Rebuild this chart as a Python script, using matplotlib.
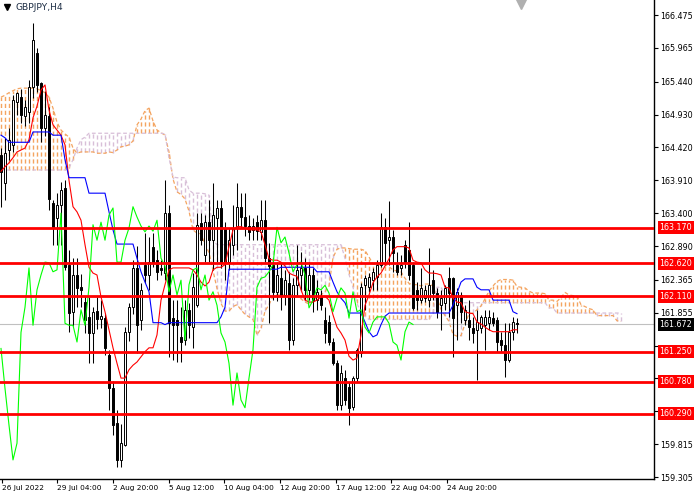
import matplotlib
matplotlib.use("Agg")
import matplotlib.pyplot as plt
from matplotlib.transforms import blended_transform_factory

# GBPJPY H4 candles, bar 0 = 26 Jul 2022 12:00
opens = [164.30, 163.87, 164.38, 164.46, 165.12, 165.20, 164.90, 164.97, 165.36, 165.88,
         165.42, 164.72, 164.90, 163.56, 163.32, 163.53, 163.79, 162.60, 161.87, 162.44,
         162.25, 162.02, 161.79, 161.54, 161.88, 161.76, 161.77, 161.20, 160.68, 160.14,
         159.57, 159.80, 161.55, 161.94, 162.55, 161.74, 162.59, 162.44, 162.87, 162.67,
         162.55, 162.47, 163.40, 161.77, 161.74, 161.48, 161.43, 161.90, 161.63, 161.97,
         163.25, 162.75, 163.26, 162.98, 163.32, 163.48, 163.17, 162.64, 162.91, 163.17,
         163.50, 163.34, 163.20, 163.14, 163.26, 163.11, 163.29, 162.70, 162.59, 162.18,
         162.39, 162.13, 162.32, 161.43, 162.29, 162.44, 162.55, 162.21, 162.44, 162.05,
         162.10, 161.74, 161.71, 161.40, 161.07, 160.42, 160.84, 160.70, 160.39, 160.84,
         161.23, 162.28, 162.25, 162.36, 162.41, 162.60, 163.18, 162.98, 163.03, 162.60,
         162.55, 162.91, 162.83, 162.59, 162.21, 162.05, 162.08, 162.05, 162.36, 162.16,
         161.97, 162.01, 162.39, 162.39, 161.97, 162.13, 161.74, 161.74, 161.62, 161.59,
         161.62, 161.66, 161.69, 161.77, 161.74, 161.43, 161.35, 161.12, 161.56, 161.69]
highs = [164.41, 164.57, 164.72, 165.23, 165.28, 165.33, 165.15, 165.46, 166.35, 165.96,
         165.44, 165.30, 165.05, 163.60, 163.71, 163.88, 163.91, 162.83, 162.70, 162.70,
         162.45, 162.12, 162.10, 161.95, 162.10, 162.05, 161.85, 161.28, 160.80, 160.35,
         160.12, 161.63, 162.01, 162.67, 162.89, 162.32, 163.09, 163.03, 163.09, 162.83,
         162.67, 163.91, 163.53, 162.05, 162.05, 161.94, 162.05, 162.01, 162.47, 163.40,
         163.40, 163.37, 163.60, 163.87, 163.60, 163.60, 163.26, 163.17, 163.53, 163.87,
         163.71, 163.71, 163.37, 163.32, 163.37, 163.60, 163.60, 162.94, 162.70, 162.64,
         162.64, 162.52, 162.49, 162.39, 162.91, 162.80, 162.70, 162.64, 162.55, 162.36,
         162.21, 161.94, 161.82, 161.46, 161.12, 161.04, 160.97, 160.78, 160.87, 161.31,
         162.32, 162.44, 162.47, 162.55, 162.67, 163.40, 163.32, 163.59, 163.14, 162.80,
         162.75, 162.98, 163.26, 162.64, 162.33, 162.55, 162.28, 162.86, 162.52, 162.24,
         162.21, 162.28, 162.56, 162.41, 162.24, 162.18, 161.97, 162.05, 161.79, 161.90,
         161.82, 161.90, 161.90, 161.87, 161.79, 161.56, 161.69, 161.69, 161.79, 161.77]
lows = [163.49, 163.60, 164.22, 164.35, 164.92, 164.80, 164.75, 164.80, 165.19, 165.28,
        164.50, 164.60, 163.45, 162.91, 162.91, 162.91, 162.52, 161.55, 161.65, 161.95,
        161.95, 161.54, 161.07, 161.08, 161.60, 161.62, 161.20, 160.34, 159.95, 159.46,
        159.46, 159.78, 161.42, 161.83, 161.23, 161.59, 162.32, 162.21, 162.56, 162.36,
        162.44, 162.36, 161.17, 161.12, 161.09, 161.09, 161.35, 161.46, 161.31, 161.94,
        162.91, 162.64, 162.64, 162.52, 162.64, 162.55, 162.36, 162.52, 162.75, 162.83,
        163.17, 163.05, 162.98, 162.98, 162.98, 162.98, 162.64, 161.69, 162.05, 162.04,
        161.90, 161.97, 161.28, 161.35, 162.13, 162.21, 162.05, 162.05, 161.87, 161.90,
        161.90, 161.39, 161.35, 161.04, 160.34, 160.34, 160.42, 160.11, 160.34, 160.78,
        161.17, 161.90, 162.18, 162.21, 162.21, 162.56, 162.60, 162.60, 162.49, 162.44,
        162.44, 162.55, 162.36, 161.90, 161.90, 162.01, 162.02, 161.94, 162.05, 161.77,
        161.59, 161.90, 161.79, 161.17, 161.43, 161.69, 161.66, 161.43, 161.39, 160.81,
        161.54, 161.28, 161.59, 161.65, 161.25, 161.25, 160.86, 161.09, 161.43, 161.54]
closes = [164.04, 164.33, 164.53, 165.16, 165.26, 164.92, 165.05, 165.36, 166.09, 165.39,
          164.72, 164.92, 163.62, 163.17, 163.53, 163.76, 162.57, 161.85, 162.44, 162.24,
          162.20, 161.74, 161.54, 161.87, 161.75, 161.80, 161.30, 160.68, 160.11, 159.57,
          159.83, 161.55, 161.94, 162.55, 161.66, 162.21, 162.44, 162.64, 162.63, 162.49,
          162.52, 163.40, 161.69, 161.66, 161.66, 161.40, 161.90, 161.66, 162.25, 163.22,
          162.98, 163.26, 162.98, 163.37, 163.48, 162.64, 162.64, 162.98, 163.17, 163.50,
          163.34, 163.20, 163.11, 163.20, 163.12, 163.29, 162.70, 162.58, 162.18, 162.44,
          162.13, 162.36, 161.43, 162.29, 162.52, 162.55, 162.21, 162.44, 162.05, 162.18,
          161.97, 161.54, 161.40, 161.07, 160.42, 160.92, 160.50, 160.38, 160.84, 161.28,
          162.25, 162.39, 162.41, 162.49, 162.60, 163.18, 162.94, 163.03, 162.78, 162.49,
          162.60, 162.64, 162.44, 161.93, 162.05, 162.24, 162.21, 162.28, 162.16, 161.87,
          162.08, 162.24, 162.16, 161.77, 162.18, 161.87, 161.90, 161.63, 161.54, 161.71,
          161.79, 161.79, 161.79, 161.69, 161.40, 161.35, 161.12, 161.56, 161.71, 161.672]

# Ichimoku lines as drawn on the chart
tenkan = [164.05, 164.12, 164.18, 164.26, 164.35, 164.38, 164.41, 164.54, 164.88, 165.06,
          165.31, 165.39, 165.00, 164.77, 164.69, 164.61, 164.46, 163.91, 163.50, 163.42,
          163.29, 162.91, 162.56, 162.47, 162.44, 162.10, 161.87, 161.59, 161.31, 161.07,
          160.84, 160.84, 160.97, 161.04, 161.09, 161.17, 161.25, 161.31, 161.31, 161.51,
          162.05, 162.29, 162.52, 162.55, 162.55, 162.55, 162.55, 162.55, 162.52, 162.44,
          162.33, 162.27, 162.33, 162.52, 162.56, 162.56, 162.60, 162.88, 163.14, 163.19,
          163.19, 163.17, 163.14, 163.14, 163.14, 163.11, 162.91, 162.69, 162.67, 162.67,
          162.64, 162.58, 162.47, 162.44, 162.42, 162.21, 162.05, 162.02, 162.02, 162.05,
          162.10, 162.11, 162.05, 161.82, 161.63, 161.54, 161.43, 161.18, 161.12, 161.15,
          161.51, 161.97, 162.13, 162.32, 162.41, 162.47, 162.58, 162.69, 162.83, 162.88,
          162.88, 162.88, 162.86, 162.67, 162.64, 162.63, 162.52, 162.47, 162.47, 162.46,
          162.44, 162.25, 162.24, 162.08, 162.02, 162.01, 161.87, 161.85, 161.84, 161.71,
          161.68, 161.63, 161.59, 161.56, 161.56, 161.56, 161.56, 161.56, 161.59, 161.59]
kijun = ([164.61, 164.57] + [164.50] * 6 + [164.66] * 5 + [164.61] * 3 + [164.23]
         + [163.95] * 5 + [163.71] * 5 + [163.42, 163.14] + [162.92] * 5
         + [162.70, 162.49, 162.33, 162.18] + [161.70] * 3 + [161.67] + [161.70] * 13
         + [161.79, 161.94] + [162.53] * 13 + [162.56] * 9 + [162.49] * 4
         + [162.33, 162.18, 162.08, 162.01] + [161.85] * 4
         + [161.71, 161.56, 161.48, 161.51, 161.67, 161.80] + [161.85] * 16
         + [161.97, 162.16, 162.33] + [162.38] * 3 + [162.25] + [162.21] * 3
         + [162.05] * 5 + [161.87, 161.84])
span_a = [165.20, 165.23, 165.27, 165.30, 165.33, 165.34, 165.34, 165.34, 165.34, 165.33,
          165.30, 165.27, 165.20, 165.03, 164.81, 164.69, 164.63, 164.58, 164.41, 164.33,
          164.35, 164.35, 164.35, 164.35, 164.33, 164.33, 164.33, 164.35, 164.34, 164.38,
          164.43, 164.44, 164.46, 164.52, 164.77, 164.86, 164.99, 165.03, 164.83, 164.69,
          164.65, 164.61, 164.35, 163.93, 163.73, 163.69, 163.62, 163.43, 163.14, 163.09,
          163.08, 162.91, 162.79, 162.51, 162.23, 162.00, 161.88, 161.88, 161.95, 161.98,
          161.90, 161.83, 161.79, 161.75, 161.51, 161.61, 161.88, 161.98, 162.11, 162.13,
          162.13, 162.13, 162.13, 162.13, 162.11, 162.07, 162.02, 161.99, 162.02, 162.11,
          162.13, 162.18, 162.27, 162.71, 162.84, 162.86, 162.86, 162.85, 162.84, 162.84,
          162.84, 162.82, 162.72, 162.61, 162.60, 162.60, 162.60, 162.57, 162.52, 162.50,
          162.49, 162.39, 162.31, 162.29, 162.29, 162.27, 162.30, 162.30, 162.27, 162.08,
          161.91, 161.81, 161.72, 161.52, 161.49, 161.50, 161.68, 161.84, 161.85, 161.90,
          161.96, 162.07, 162.19, 162.27, 162.34, 162.37, 162.37, 162.37, 162.36, 162.26,
          162.25, 162.24, 162.19, 162.16, 162.16, 162.16, 162.15, 162.05, 162.05, 162.03,
          162.09, 162.17, 162.13, 162.12, 162.11, 161.98, 161.95, 161.92, 161.90, 161.81,
          161.81, 161.81, 161.81, 161.81, 161.73, 161.72]
span_b = ([164.07] * 17 + [164.10, 164.23, 164.41, 164.54, 164.58] + [164.64] * 19
          + [164.63, 164.26, 163.96] + [163.95] * 3 + [163.76] + [163.71] * 3
          + [163.70, 163.68, 162.98] + [162.91] * 32
          + [162.70, 162.45, 162.25, 162.00, 161.85, 161.80] + [161.75] * 16
          + [161.85, 162.25, 162.25, 162.13, 162.13] + [162.01] * 24
          + [161.93, 161.93] + [161.85] * 17)

levels = [163.170, 162.620, 162.110, 161.250, 160.780, 160.290]
last_price = 161.672
price_ticks = [166.475, 165.965, 165.440, 164.930, 164.420, 163.910, 163.400, 162.890,
               162.365, 161.855, 161.345, 160.835, 160.325, 159.815, 159.305]
time_labels = ["26 Jul 2022", "29 Jul 04:00", "2 Aug 20:00", "5 Aug 12:00",
               "10 Aug 04:00", "12 Aug 20:00", "17 Aug 12:00", "22 Aug 04:00",
               "24 Aug 20:00"]
chikou_shift = 26

plt.rcParams["font.family"] = "DejaVu Sans"
fig = plt.figure(figsize=(7, 5), dpi=100)
ax = fig.add_axes([0, 21 / 500, 654 / 700, 479 / 500])

n = len(closes)
bars = list(range(n))

# cloud: one dotted vertical stroke per bar, colour by which span is on top
dash = (0, (3, 2))
for i, (a, b) in enumerate(zip(span_a, span_b)):
    col = "#f4a460" if a >= b else "#d8bfd8"
    ax.vlines(i, min(a, b), max(a, b), colors=col, linestyles=dash, lw=1.0, zorder=1)
cloud_x = list(range(len(span_a)))
ax.plot(cloud_x, span_a, color="#f4a460", lw=0.9, ls=dash, zorder=1.2)
ax.plot(cloud_x, span_b, color="#d8bfd8", lw=0.9, ls=dash, zorder=1.2)

ax.axhline(last_price, color="#c0c0c0", lw=0.8, zorder=1.5)

# candles
for i in bars:
    o, h, l, c = opens[i], highs[i], lows[i], closes[i]
    ax.vlines(i, l, h, colors="black", lw=0.75, zorder=3)
    fill = "white" if c >= o else "black"
    ax.bar(i, max(abs(c - o), 0.004), bottom=min(o, c), width=0.62,
           color=fill, edgecolor="black", lw=0.7, zorder=3.1)

# ichimoku lines
ax.plot(bars, tenkan, color="#ff0000", lw=0.8, zorder=4)
ax.plot(bars, kijun, color="#0000ff", lw=0.8, zorder=4)
ax.plot(bars[:n - chikou_shift], closes[chikou_shift:], color="#00ff00", lw=0.8, zorder=4)

# support / resistance levels
for lv in levels:
    ax.axhline(lv, color="#ff0000", lw=2.0, zorder=5)

ax.set_xlim(-0.25, 163.25)
ax.set_ylim(159.274, 166.708)

for side in ("top", "left"):
    ax.spines[side].set_visible(False)
for side in ("right", "bottom"):
    ax.spines[side].set_color("black")
    ax.spines[side].set_linewidth(1.0)

# scale labels that sit under a level box are left as bare tick marks
hidden = [p for p in price_ticks if any(abs(p - lv) < 0.1 for lv in levels)]
ax.yaxis.tick_right()
ax.set_yticks(price_ticks)
ax.set_yticklabels(["" if p in hidden else f"{p:.3f}" for p in price_ticks])
ax.tick_params(axis="y", direction="out", length=3, width=0.8, pad=1.5,
               labelsize=5.8, colors="black")

label_step = 13.915
ax.set_xticks([0.175 + label_step * k for k in range(len(time_labels))])
ax.set_xticklabels(time_labels)
ax.tick_params(axis="x", direction="out", length=3, width=0.8, pad=1.5,
               labelsize=5.3, colors="black")
for lab in ax.get_xticklabels():
    lab.set_horizontalalignment("left")

# price boxes on the right scale
trans = blended_transform_factory(ax.transAxes, ax.transData)
for lv in levels:
    ax.text(1.0085, lv, f"{lv:.3f}", transform=trans, ha="left", va="center",
            fontsize=5.8, color="white", clip_on=False, zorder=10,
            bbox=dict(boxstyle="square,pad=0.25", fc="#ff0000", ec="none"))
ax.text(1.0085, last_price, f"{last_price:.3f}", transform=trans, ha="left",
        va="center", fontsize=5.8, color="white", clip_on=False, zorder=10,
        bbox=dict(boxstyle="square,pad=0.25", fc="black", ec="none"))

# header and chart-shift marker
fig.text(15 / 700, 1 - 7 / 500, "GBPJPY,H4", fontsize=6.6, color="#1f2f46",
         ha="left", va="center")
ax.plot([1.6], [166.60], marker="v", ms=4.5, color="black", clip_on=False, zorder=10)
ax.plot([130], [166.66], marker="v", ms=8, color="#b0b0b0", clip_on=False, zorder=10)

fig.savefig("out.png", dpi=100)
